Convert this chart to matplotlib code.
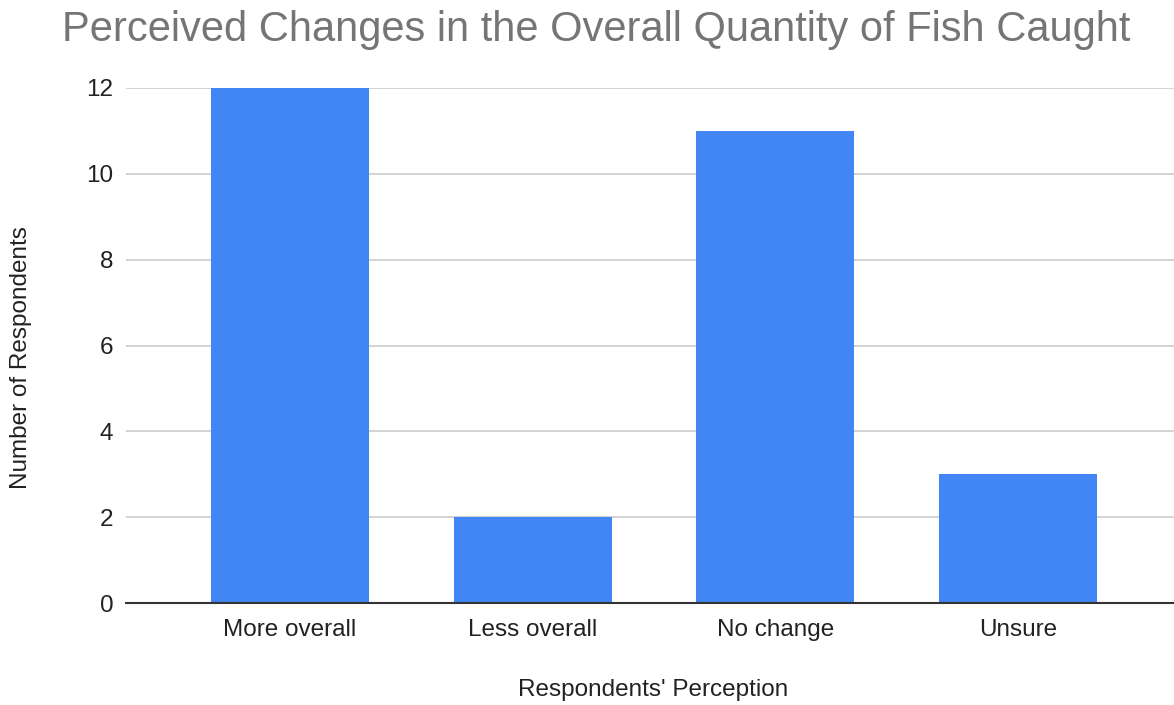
import matplotlib
matplotlib.use("Agg")
import matplotlib.pyplot as plt

categories = ["More overall", "Less overall", "No change", "Unsure"]
values = [12, 2, 11, 3]
yticks = [0, 2, 4, 6, 8, 10, 12]

plt.rcParams['font.family'] = ['Liberation Sans', 'DejaVu Sans']

fig = plt.figure(figsize=(11.74, 7.05), dpi=100)
ax = fig.add_axes([126/1174, 1 - 603/705, 1 - 126/1174, (603 - 88)/705])

x = list(range(len(categories)))
ax.bar(x, values, width=0.65, color="#4285F4", zorder=3)

ax.set_ylim(0, 12)
ax.set_xlim(-0.675, 3.642)
ax.set_yticks(yticks)
ax.set_xticks(x)
ax.set_xticklabels(categories)
ax.yaxis.grid(True, color="#cccccc", linewidth=1.2, zorder=0)
ax.set_axisbelow(True)
for s in ["top", "right", "left"]:
    ax.spines[s].set_visible(False)
ax.spines["bottom"].set_color("#333333")
ax.spines["bottom"].set_linewidth(1.5)
ax.spines["bottom"].set_zorder(4)
ax.tick_params(axis="both", length=0, labelsize=17.5, colors="#222222")
ax.tick_params(axis="y", pad=9)
ax.tick_params(axis="x", pad=11.5)

fig.text(653/1174, 1 - 690/705, "Respondents' Perception",
         ha="center", va="center", fontsize=17.5, color="#222222")
fig.text(21/1174, 1 - 358/705, "Number of Respondents",
         ha="center", va="center", rotation=90, fontsize=17.5, color="#222222")

fig.text(596/1174, 1 - 30/705, "Perceived Changes in the Overall Quantity of Fish Caught",
         ha="center", va="center", fontsize=30, color="#757575")

fig.savefig("out.png", dpi=100)
